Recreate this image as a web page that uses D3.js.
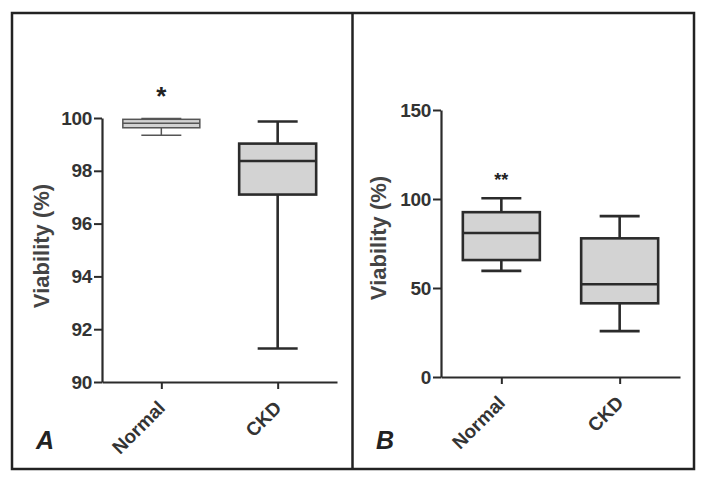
<!DOCTYPE html>
<head>
  <meta charset="utf-8" />
  <script src="https://cdn.jsdelivr.net/npm/d3@7"></script>
  <style>
    body { margin: 0; background: #fff; }
    text { font-family: "Liberation Sans", Arial, sans-serif; }
  </style>
</head>
<body>
  <svg class="fig" width="707" height="484"></svg>
  <script>
    // groups and tick values
    const groups = ["Normal", "CKD"];
    const ticksA = [90, 92, 94, 96, 98, 100];
    const ticksB = [0, 50, 100, 150];

    // panel A box stats (viability %)
    const minA = [99.35, 91.27];
    const q1A = [99.63, 97.1];
    const medA = [99.8, 98.37];
    const q3A = [99.95, 99.03];
    const maxA = [99.98, 99.87];
    const starsA = ["*", ""];

    // panel B box stats (viability %)
    const minB = [59.6, 25.8];
    const q1B = [65.7, 41.4];
    const medB = [80.9, 52.1];
    const q3B = [92.6, 77.9];
    const maxB = [100.4, 90.4];
    const starsB = ["**", ""];

    const svg = d3.select(".fig");
    const ink = "#2b2b2b";

    // outer frame + divider
    svg.append("rect").attr("x", 12).attr("y", 13).attr("width", 682).attr("height", 456)
      .attr("fill", "none").attr("stroke", "#222").attr("stroke-width", 2.5);
    svg.append("line").attr("x1", 352.5).attr("x2", 352.5).attr("y1", 13).attr("y2", 469)
      .attr("stroke", "#222").attr("stroke-width", 2.5);

    const drawPanel = (opt) => {
      const g = svg.append("g");
      const x = d3.scalePoint().domain(groups).range([opt.left, opt.right]).padding(0.51);
      const y = d3.scaleLinear().domain(opt.domain).range([opt.bottom, opt.top]);

      const yAxis = g.append("g").attr("transform", `translate(${opt.left},0)`)
        .call(d3.axisLeft(y).tickValues(opt.ticks).tickSize(8).tickSizeOuter(0).tickPadding(2));
      yAxis.select(".domain").attr("stroke", ink).attr("stroke-width", 2.2);
      yAxis.selectAll(".tick line").attr("stroke", ink).attr("stroke-width", 2);
      yAxis.selectAll(".tick text").attr("fill", "#333").attr("font-size", 19).attr("font-weight", "bold")
        .attr("letter-spacing", -0.3)
        .attr("font-family", "Liberation Sans, Arial, sans-serif");

      const xAxis = g.append("g").attr("transform", `translate(0,${opt.bottom})`)
        .call(d3.axisBottom(x).tickSize(7).tickSizeOuter(0).tickFormat(""));
      xAxis.select(".domain").attr("stroke", ink).attr("stroke-width", 2.2);
      xAxis.selectAll(".tick line").attr("stroke", ink).attr("stroke-width", 2);

      g.selectAll(".xlab").data(groups).enter().append("text")
        .attr("class", "xlab")
        .attr("transform", (d) => `translate(${x(d) + 5},${opt.bottom + 27}) rotate(-45)`)
        .attr("text-anchor", "end")
        .attr("font-size", 19).attr("font-weight", "bold").attr("fill", "#333")
        .text((d) => d);

      g.append("text")
        .attr("transform", `translate(${opt.labelX},${opt.labelY}) rotate(-90)`)
        .attr("text-anchor", "middle")
        .attr("font-size", 22).attr("font-weight", "bold").attr("fill", "#444")
        .text("Viability (%)");

      g.append("text").attr("x", opt.letterX).attr("y", 449)
        .attr("font-size", 25).attr("font-weight", "bold").attr("font-style", "italic").attr("fill", "#222")
        .text(opt.letter);

      const boxW = 77, capW = 40;
      const bx = g.selectAll(".box").data(groups).enter().append("g").attr("class", "box");
      bx.each(function (d, i) {
        const b = d3.select(this);
        const cx = x(d);
        const sw = opt.thin[i] ? 1.5 : 2.6;
        const col = opt.thin[i] ? "#555" : "#2b2b2b";
        b.append("line").attr("x1", cx).attr("x2", cx).attr("y1", y(opt.max[i])).attr("y2", y(opt.q3[i]))
          .attr("stroke", col).attr("stroke-width", sw);
        b.append("line").attr("x1", cx).attr("x2", cx).attr("y1", y(opt.q1[i])).attr("y2", y(opt.min[i]))
          .attr("stroke", col).attr("stroke-width", sw);
        b.append("line").attr("x1", cx - capW / 2).attr("x2", cx + capW / 2).attr("y1", y(opt.max[i])).attr("y2", y(opt.max[i]))
          .attr("stroke", col).attr("stroke-width", sw);
        b.append("line").attr("x1", cx - capW / 2).attr("x2", cx + capW / 2).attr("y1", y(opt.min[i])).attr("y2", y(opt.min[i]))
          .attr("stroke", col).attr("stroke-width", sw);
        b.append("rect").attr("x", cx - boxW / 2).attr("width", boxW)
          .attr("y", y(opt.q3[i])).attr("height", y(opt.q1[i]) - y(opt.q3[i]))
          .attr("fill", "#d3d3d3").attr("stroke", col).attr("stroke-width", sw);
        b.append("line").attr("x1", cx - boxW / 2).attr("x2", cx + boxW / 2).attr("y1", y(opt.med[i])).attr("y2", y(opt.med[i]))
          .attr("stroke", col).attr("stroke-width", sw);
        if (opt.stars[i]) {
          b.append("text").attr("x", cx).attr("y", y(opt.max[i]) - opt.starGap)
            .attr("text-anchor", "middle").attr("font-size", opt.starSize).attr("font-weight", "bold").attr("fill", "#222")
            .text(opt.stars[i]);
        }
      });
    };

    drawPanel({
      left: 102, right: 337, top: 118, bottom: 382, domain: [90, 100], ticks: ticksA,
      min: minA, q1: q1A, med: medA, q3: q3A, max: maxA, stars: starsA, thin: [true, false],
      labelX: 49, labelY: 246, letter: "A", letterX: 36, starGap: 14, starSize: 26
    });
    drawPanel({
      left: 441, right: 680, top: 110, bottom: 377, domain: [0, 150], ticks: ticksB,
      min: minB, q1: q1B, med: medB, q3: q3B, max: maxB, stars: starsB, thin: [false, false],
      labelX: 386, labelY: 238, letter: "B", letterX: 376, starGap: 12, starSize: 18
    });
  </script>
</body>
